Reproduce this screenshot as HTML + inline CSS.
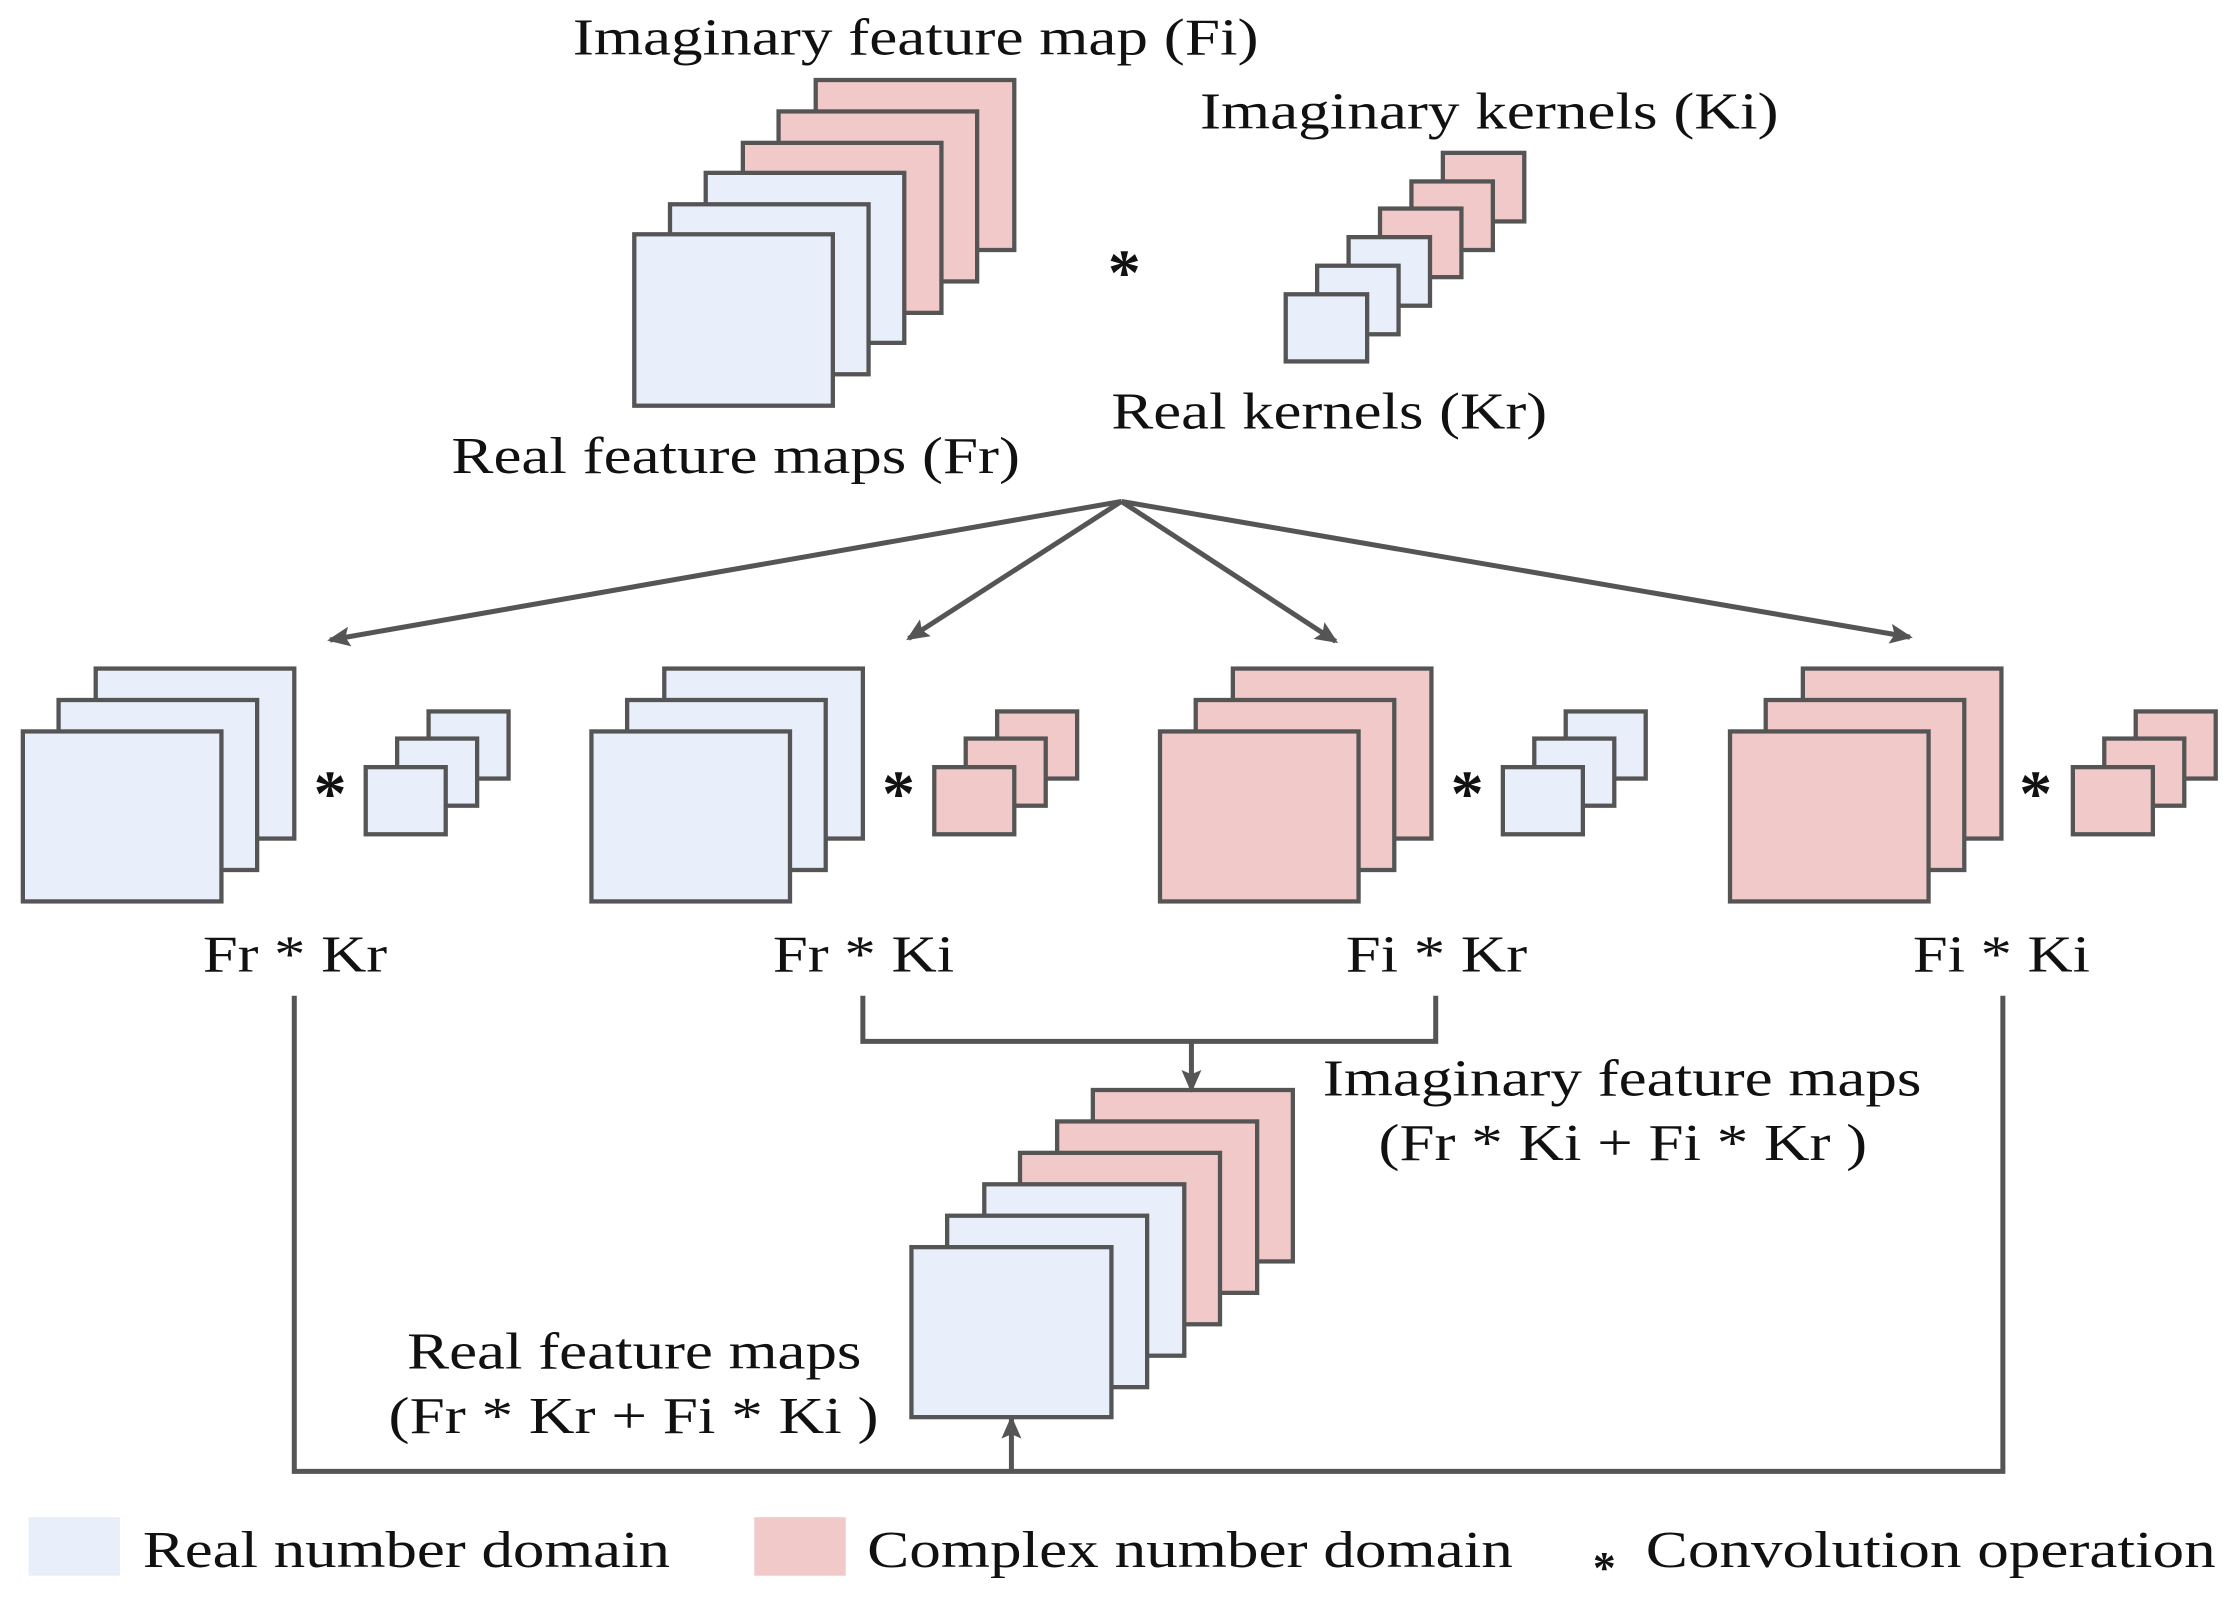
<!DOCTYPE html>
<html><head><meta charset="utf-8"><style>html,body{margin:0;padding:0;background:#fff}svg{display:block}</style></head>
<body>
<svg width="2240" height="1599" viewBox="0 0 1568 1119.3" preserveAspectRatio="none" xmlns="http://www.w3.org/2000/svg" font-family="'Liberation Serif', serif" font-size="36" fill="#111">
<defs>
<marker id="ah" markerWidth="16" markerHeight="14" refX="14" refY="7" orient="auto" markerUnits="userSpaceOnUse"><path d="M0,0 L16,7 L0,14 L3,7 Z" fill="#555"/></marker>
</defs>
<g stroke="#555" stroke-width="3">
<rect x="571" y="56" width="139" height="119" fill="#f2c9c9"/>
<rect x="545" y="78" width="139" height="119" fill="#f2c9c9"/>
<rect x="520" y="100" width="139" height="119" fill="#f2c9c9"/>
<rect x="494" y="121" width="139" height="119" fill="#e8eefa"/>
<rect x="469" y="143" width="139" height="119" fill="#e8eefa"/>
<rect x="444" y="164" width="139" height="120" fill="#e8eefa"/>
<rect x="1010" y="107" width="57" height="48" fill="#f2c9c9"/>
<rect x="988" y="127" width="57" height="48" fill="#f2c9c9"/>
<rect x="966" y="146" width="57" height="48" fill="#f2c9c9"/>
<rect x="944" y="166" width="57" height="48" fill="#e8eefa"/>
<rect x="922" y="186" width="57" height="48" fill="#e8eefa"/>
<rect x="900" y="206" width="57" height="47" fill="#e8eefa"/>
<g>
<rect x="67" y="468" width="139" height="119" fill="#e8eefa"/>
<rect x="41" y="490" width="139" height="119" fill="#e8eefa"/>
<rect x="16" y="512" width="139" height="119" fill="#e8eefa"/>
<rect x="300" y="498" width="56" height="47" fill="#e8eefa"/>
<rect x="278" y="517" width="56" height="47" fill="#e8eefa"/>
<rect x="256" y="537" width="56" height="47" fill="#e8eefa"/>
</g>
<g transform="translate(398,0)">
<rect x="67" y="468" width="139" height="119" fill="#e8eefa"/>
<rect x="41" y="490" width="139" height="119" fill="#e8eefa"/>
<rect x="16" y="512" width="139" height="119" fill="#e8eefa"/>
<rect x="300" y="498" width="56" height="47" fill="#f2c9c9"/>
<rect x="278" y="517" width="56" height="47" fill="#f2c9c9"/>
<rect x="256" y="537" width="56" height="47" fill="#f2c9c9"/>
</g>
<g transform="translate(796,0)">
<rect x="67" y="468" width="139" height="119" fill="#f2c9c9"/>
<rect x="41" y="490" width="139" height="119" fill="#f2c9c9"/>
<rect x="16" y="512" width="139" height="119" fill="#f2c9c9"/>
<rect x="300" y="498" width="56" height="47" fill="#e8eefa"/>
<rect x="278" y="517" width="56" height="47" fill="#e8eefa"/>
<rect x="256" y="537" width="56" height="47" fill="#e8eefa"/>
</g>
<g transform="translate(1195,0)">
<rect x="67" y="468" width="139" height="119" fill="#f2c9c9"/>
<rect x="41" y="490" width="139" height="119" fill="#f2c9c9"/>
<rect x="16" y="512" width="139" height="119" fill="#f2c9c9"/>
<rect x="300" y="498" width="56" height="47" fill="#f2c9c9"/>
<rect x="278" y="517" width="56" height="47" fill="#f2c9c9"/>
<rect x="256" y="537" width="56" height="47" fill="#f2c9c9"/>
</g>
<rect x="765" y="763" width="140" height="120" fill="#f2c9c9"/>
<rect x="740" y="785" width="140" height="120" fill="#f2c9c9"/>
<rect x="714" y="807" width="140" height="120" fill="#f2c9c9"/>
<rect x="689" y="829" width="140" height="120" fill="#e8eefa"/>
<rect x="663" y="851" width="140" height="120" fill="#e8eefa"/>
<rect x="638" y="873" width="140" height="119" fill="#e8eefa"/>
<rect x="20" y="1062" width="64" height="41" fill="#e8eefa" stroke="none"/>
<rect x="528" y="1062" width="64" height="41" fill="#f2c9c9" stroke="none"/>
</g>
<g stroke="#555" stroke-width="3.5" fill="none">
<line x1="785" y1="351" x2="231" y2="448" marker-end="url(#ah)"/>
<line x1="785" y1="351" x2="636" y2="447" marker-end="url(#ah)"/>
<line x1="785" y1="351" x2="935" y2="449" marker-end="url(#ah)"/>
<line x1="785" y1="351" x2="1337" y2="446" marker-end="url(#ah)"/>
<polyline points="206,697 206,1030 1402,1030 1402,697"/>
<line x1="708" y1="1030" x2="708" y2="993" marker-end="url(#ah)"/>
<polyline points="604,697 604,729 1005,729 1005,697"/>
<line x1="834" y1="729" x2="834" y2="763" marker-end="url(#ah)"/>
</g>
<g lengthAdjust="spacingAndGlyphs">
<text x="401" y="38" textLength="480" lengthAdjust="spacingAndGlyphs">Imaginary feature map (Fi)</text>
<text x="840" y="90" textLength="405" lengthAdjust="spacingAndGlyphs">Imaginary kernels (Ki)</text>
<text x="778" y="300" textLength="305" lengthAdjust="spacingAndGlyphs">Real kernels (Kr)</text>
<text x="316" y="331" textLength="398" lengthAdjust="spacingAndGlyphs">Real feature maps (Fr)</text>
<text x="142" y="680" textLength="129" lengthAdjust="spacingAndGlyphs">Fr * Kr</text>
<text x="541" y="680" textLength="127" lengthAdjust="spacingAndGlyphs">Fr * Ki</text>
<text x="942" y="680" textLength="127" lengthAdjust="spacingAndGlyphs">Fi * Kr</text>
<text x="1339" y="680" textLength="124" lengthAdjust="spacingAndGlyphs">Fi * Ki</text>
<text x="926" y="767" textLength="419" lengthAdjust="spacingAndGlyphs">Imaginary feature maps</text>
<text x="965" y="812" textLength="342" lengthAdjust="spacingAndGlyphs">(Fr * Ki + Fi * Kr )</text>
<text x="285" y="958" textLength="318" lengthAdjust="spacingAndGlyphs">Real feature maps</text>
<text x="272" y="1003" textLength="343" lengthAdjust="spacingAndGlyphs">(Fr * Kr + Fi * Ki )</text>
<text x="100" y="1097" textLength="369" lengthAdjust="spacingAndGlyphs">Real number domain</text>
<text x="607" y="1097" textLength="452" lengthAdjust="spacingAndGlyphs">Complex number domain</text>
<text x="1152" y="1097" textLength="399" lengthAdjust="spacingAndGlyphs">Convolution operation</text>
</g>
<g font-size="46" font-weight="bold" text-anchor="middle">
<text x="787" y="206">*</text>
<text x="231" y="571">*</text>
<text x="629" y="571">*</text>
<text x="1027" y="571">*</text>
<text x="1425" y="571">*</text>
<text x="1123" y="1108" font-size="32">*</text>
</g>
</svg>
</body></html>
